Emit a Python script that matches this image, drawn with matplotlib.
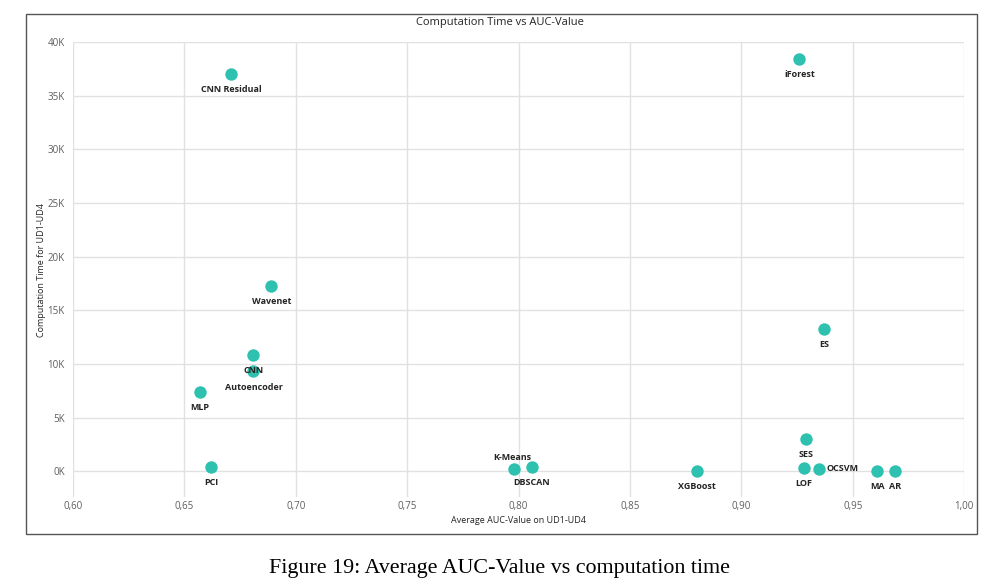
import matplotlib.pyplot as plt
from matplotlib.patches import Rectangle
from matplotlib.ticker import FuncFormatter

# data
models = ['CNN Residual', 'iForest', 'Wavenet', 'ES', 'CNN', 'Autoencoder', 'MLP', 'PCI',
          'K-Means', 'DBSCAN', 'XGBoost', 'SES', 'LOF', 'OCSVM', 'MA', 'AR']
auc = [0.671, 0.926, 0.689, 0.937, 0.681, 0.681, 0.657, 0.662,
       0.798, 0.806, 0.880, 0.929, 0.928, 0.935, 0.961, 0.969]
comp_time = [37000, 38400, 17250, 13300, 10800, 9300, 7400, 370,
             200, 400, 20, 3000, 300, 250, 50, 60]
# label placement: 'below', 'above', 'right'
label_pos = ['below', 'below', 'below', 'below', 'below', 'below', 'below', 'below',
             'above', 'below', 'below', 'below', 'below', 'right', 'below', 'below']

x_ticks = [0.60, 0.65, 0.70, 0.75, 0.80, 0.85, 0.90, 0.95, 1.00]
y_ticks = [0, 5000, 10000, 15000, 20000, 25000, 30000, 35000, 40000]

plt.rcParams['font.family'] = ['Open Sans', 'DejaVu Sans']

fig = plt.figure(figsize=(9.99, 5.86), dpi=100)
ax = fig.add_axes([0.0731, 0.152, 0.892, 0.776])

ax.scatter(auc, comp_time, s=80, color='#2EC1AF', zorder=3, linewidths=0)

for name, x, y, pos in zip(models, auc, comp_time, label_pos):
    if pos == 'below':
        ax.annotate(name, (x, y), xytext=(0, -8), textcoords='offset points',
                    ha='center', va='top', fontsize=6.5, fontweight='bold', color='#252423')
    elif pos == 'above':
        ax.annotate(name, (x, y), xytext=(-1, 5), textcoords='offset points',
                    ha='center', va='bottom', fontsize=6.5, fontweight='bold', color='#252423')
    else:
        ax.annotate(name, (x, y), xytext=(5, 0), textcoords='offset points',
                    ha='left', va='center', fontsize=6.5, fontweight='bold', color='#252423')

ax.set_xlim(0.60, 1.00)
ax.set_ylim(-2400, 40000)
ax.set_xticks(x_ticks)
ax.set_yticks(y_ticks)
ax.xaxis.set_major_formatter(FuncFormatter(lambda v, p: f'{v:.2f}'.replace('.', ',')))
ax.yaxis.set_major_formatter(FuncFormatter(lambda v, p: f'{int(v / 1000)}K'))
ax.tick_params(length=0, labelsize=7, labelcolor='#605E5C')
ax.tick_params(axis='x', pad=3)
ax.tick_params(axis='y', pad=6)
ax.grid(True, color='#E1E1E1', linewidth=1)
ax.set_axisbelow(True)
for s in ax.spines.values():
    s.set_visible(False)

ax.set_xlabel('Average AUC-Value on UD1-UD4', fontsize=6.5, color='#252423', labelpad=3)
ax.set_ylabel('Computation Time for UD1-UD4', fontsize=6.5, color='#252423', labelpad=1)

fig.text(0.5, 1 - 22 / 586, 'Computation Time vs AUC-Value', ha='center', va='center',
         fontsize=8, color='#252423')

# outer frame of the embedded chart
fig.patches.append(Rectangle((26 / 999, 1 - 534 / 586), 951 / 999, 520 / 586,
                             transform=fig.transFigure, fill=False,
                             edgecolor='#555555', linewidth=1))

fig.text(0.5, 1 - 568 / 586, 'Figure 19: Average AUC-Value vs computation time',
         ha='center', va='center', fontsize=15.8, family='Liberation Serif', color='black')

fig.savefig('out.png', dpi=100)
